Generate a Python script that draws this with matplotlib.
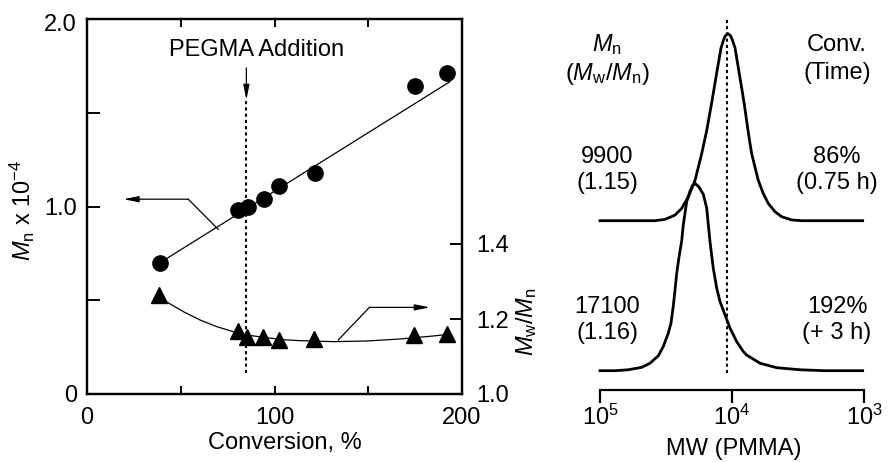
import numpy as np
import matplotlib
matplotlib.use('Agg')
import matplotlib.pyplot as plt

# --------------------------- Fonts ---------------------------
plt.rcParams['font.family'] = ['Liberation Sans', 'DejaVu Sans']
plt.rcParams['mathtext.fontset'] = 'custom'
plt.rcParams['mathtext.rm'] = 'Liberation Sans'
plt.rcParams['mathtext.it'] = 'Liberation Sans:italic'
plt.rcParams['mathtext.bf'] = 'Liberation Sans:bold'
FS = 17

# --------------------------- Data: left panel ---------------------------
conv_mn = [38.9, 80.5, 86.0, 94.2, 102.6, 121.4, 174.8, 192.2]
mn = [0.697, 0.981, 0.999, 1.040, 1.111, 1.180, 1.643, 1.714]   # x 10^-4
mn_fit_conv = [38.9, 193.6]
mn_fit = [0.700, 1.666]

conv_pdi = [38.6, 80.5, 85.2, 94.0, 102.6, 121.1, 174.4, 191.8]
pdi = [1.264, 1.168, 1.153, 1.153, 1.144, 1.146, 1.157, 1.160]
pdi_curve_conv = [40.7, 51.4, 60.3, 69.2, 78.0, 85.2, 95.8, 104.7, 113.6,
                  131.4, 149.2, 166.9, 184.7, 192.7]
pdi_curve = [1.2507, 1.2196, 1.1973, 1.1796, 1.1662, 1.1573, 1.1502, 1.1449,
             1.1422, 1.1396, 1.1413, 1.1467, 1.1547, 1.1591]

pegma_conv = 85.0

# --------------------------- Data: right panel (GPC traces) ---------------------------
# log10(MW) and normalised RI intensity
top_logmw = [5.00, 4.583, 4.508, 4.432, 4.381, 4.331, 4.280, 4.230, 4.192,
             4.154, 4.116, 4.083, 4.065, 4.050, 4.030, 4.012, 4.000, 3.977,
             3.952, 3.927, 3.907, 3.889, 3.871, 3.851, 3.826, 3.801, 3.763,
             3.725, 3.674, 3.623, 3.548, 3.472, 3.01]
top_int = [0.0, 0.0, 0.007, 0.030, 0.066, 0.127, 0.216, 0.357, 0.481,
           0.630, 0.790, 0.924, 0.965, 0.990, 1.0, 0.990, 0.972, 0.924,
           0.817, 0.711, 0.623, 0.534, 0.446, 0.358, 0.287, 0.216, 0.145,
           0.092, 0.048, 0.021, 0.004, 0.0, 0.0]

bot_logmw = [5.00, 4.886, 4.786, 4.684, 4.621, 4.558, 4.520, 4.483, 4.462,
             4.445, 4.432, 4.419, 4.402, 4.381, 4.369, 4.343, 4.318, 4.300,
             4.277, 4.250, 4.217, 4.192, 4.167, 4.142, 4.116, 4.091, 4.053,
             4.015, 3.990, 3.965, 3.914, 3.889, 3.788, 3.661, 3.485, 3.30,
             3.01]
bot_int = [0.0, 0.0, 0.005, 0.018, 0.040, 0.080, 0.130, 0.200, 0.255,
           0.345, 0.430, 0.520, 0.605, 0.695, 0.780, 0.905, 0.960, 0.990,
           1.0, 0.982, 0.943, 0.871, 0.692, 0.549, 0.442, 0.370, 0.299,
           0.227, 0.192, 0.156, 0.102, 0.084, 0.040, 0.016, 0.005, 0.0,
           0.0]

mp_line_logmw = 4.035

# --------------------------- Figure ---------------------------
W, H = 888, 462
fig = plt.figure(figsize=(W / 100, H / 100), dpi=100)


def fx(px):
    return px / W


def fy(py):
    return 1 - py / H


# --------------------------- Left panel ---------------------------
ax = fig.add_axes([fx(87), fy(394), 375 / W, 375 / H])
ax.set_xlim(0, 200)
ax.set_ylim(0, 2.0)
for s in ax.spines.values():
    s.set_linewidth(1.6)

ax.set_xticks([0, 50, 100, 150, 200], ['0', '', '100', '', '200'])
ax.set_yticks([0, 0.5, 1.0, 1.5, 2.0], ['0', '', '1.0', '', ''])
ax.tick_params(axis='x', direction='in', length=6, width=1.4, top=True,
               labelsize=FS, pad=9.5)
ax.tick_params(axis='y', direction='in', length=9, width=1.4, right=False,
               labelsize=FS, pad=7)
# the "2.0" label sits a little below its tick in the original
fig.text(fx(77), fy(25), '2.0', fontsize=FS, ha='right', va='center')
fig.text(fx(285), fy(443), 'Conversion, %', fontsize=FS, ha='center',
         va='center')

ax.plot(mn_fit_conv, mn_fit, color='k', lw=0.9)
ax.plot(conv_mn, mn, 'o', color='k', ms=11, zorder=5)

ax_r = ax.twinx()
ax_r.set_ylim(1.0, 2.0)
ax_r.set_yticks([1.0, 1.2, 1.4], ['1.0', '1.2', '1.4'])
ax_r.tick_params(axis='y', direction='in', length=9, width=1.4,
                 labelsize=FS, pad=10)
for s in ax_r.spines.values():
    s.set_linewidth(1.6)
ax_r.plot(pdi_curve_conv, pdi_curve, color='k', lw=0.9)
ax_r.plot(conv_pdi, pdi, '^', color='k', ms=12, zorder=5)

# PEGMA addition marker
ax.plot([pegma_conv, pegma_conv], [0.11, 1.568], color='k', lw=1.5,
        ls=(0, (1.5, 1.5)))
ax.annotate('', xy=(pegma_conv, 1.568), xytext=(pegma_conv, 1.739),
            arrowprops=dict(arrowstyle='-|>,head_length=0.9,head_width=0.18',
                            color='k', lw=0.9, shrinkA=0, shrinkB=0))
ax.text(90.5, 1.835, 'PEGMA Addition', fontsize=FS, ha='center', va='center')

# axis pointer arrows
ax.plot([70.0, 54.0], [0.878, 1.039], color='k', lw=0.9)
ax.annotate('', xy=(19.4, 1.039), xytext=(54.0, 1.039),
            arrowprops=dict(arrowstyle='-|>,head_length=0.9,head_width=0.18',
                            color='k', lw=0.9, shrinkA=0, shrinkB=0))
ax.plot([134.0, 150.6], [0.288, 0.462], color='k', lw=0.9)
ax.annotate('', xy=(182.9, 0.462), xytext=(150.6, 0.462),
            arrowprops=dict(arrowstyle='-|>,head_length=0.9,head_width=0.18',
                            color='k', lw=0.9, shrinkA=0, shrinkB=0))

fig.text(fx(22), fy(210), r'$\mathit{M}_\mathrm{n}$ x 10$^{-4}$', fontsize=FS,
         rotation=90, ha='center', va='center')
fig.text(fx(527), fy(322), r'$\mathit{M}_\mathrm{w}/\mathit{M}_\mathrm{n}$',
         fontsize=FS, rotation=90, ha='center', va='center')

# --------------------------- Right panel ---------------------------
ax2 = fig.add_axes([fx(600), fy(390), 264 / W, 375 / H])
ax2.set_xscale('log')
ax2.set_xlim(1e5, 1e3)
ax2.set_ylim(0, 375 / 187)
for k in ['left', 'right', 'top']:
    ax2.spines[k].set_visible(False)
ax2.spines['bottom'].set_linewidth(1.6)
ax2.set_xticks([1e5, 1e4, 1e3], [r'10$^5$', r'10$^4$', r'10$^3$'])
ax2.xaxis.set_minor_locator(matplotlib.ticker.NullLocator())
ax2.set_yticks([])
ax2.tick_params(axis='x', direction='out', length=9, width=1.6,
                labelsize=FS, pad=1.5)
ax2.patch.set_visible(False)
fig.text(fx(734), fy(449), 'MW (PMMA)', fontsize=FS, ha='center', va='center')

top_off = (390 - 220.7) / 187
bot_off = (390 - 370.7) / 187
ax2.plot(10 ** np.array(top_logmw), top_off + np.array(top_int), color='k',
         lw=2.0, solid_joinstyle='round', clip_on=False)
ax2.plot(10 ** np.array(bot_logmw), bot_off + np.array(bot_int), color='k',
         lw=2.0, solid_joinstyle='round', clip_on=False)
ax2.plot([10 ** mp_line_logmw] * 2, [0.09, 1.99], color='k', lw=1.5,
         ls=(0, (1.5, 1.5)), clip_on=False)

labels_left = [(r'$\mathit{M}_\mathrm{n}$', 45),
               (r'($\mathit{M}_\mathrm{w}$/$\mathit{M}_\mathrm{n}$)', 74),
               ('9900', 157), ('(1.15)', 183),
               ('17100', 307), ('(1.16)', 333)]
labels_right = [('Conv.', 45), ('(Time)', 73), ('86%', 157), ('(0.75 h)', 183),
                ('192%', 307), ('(+ 3 h)', 333)]
for txt, py in labels_left:
    fig.text(fx(607), fy(py), txt, fontsize=FS, ha='center', va='center')
for txt, py in labels_right:
    fig.text(fx(837), fy(py), txt, fontsize=FS, ha='center', va='center')

fig.savefig('out.png', dpi=100)
